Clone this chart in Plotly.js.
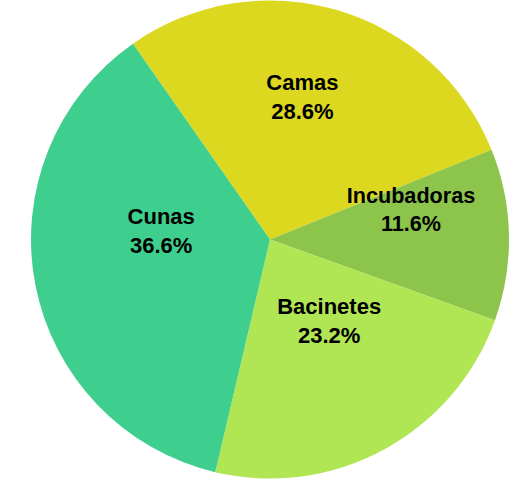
<!DOCTYPE html>
<html>
<head>
<meta charset="utf-8">
<script src="https://cdn.plot.ly/plotly-3.0.1.min.js"></script>
<style>html,body{margin:0;padding:0;background:#fff;overflow:hidden;}#chart{width:514px;height:479px;}</style>
</head>
<body>
<div id="chart"></div>
<script>
const categories = ["Camas", "Incubadoras", "Bacinetes", "Cunas"];
const shares = [28.6, 11.6, 23.2, 36.6];
const sliceColors = ["#dcd820", "#8dc44b", "#b0e553", "#3ecf8e"];
const noColors = ["rgba(0,0,0,0)", "rgba(0,0,0,0)", "rgba(0,0,0,0)", "rgba(0,0,0,0)"];

const common = {
  type: "pie",
  labels: categories,
  values: shares,
  sort: false,
  direction: "clockwise",
  rotation: -35,
  hoverinfo: "none"
};

// coloured slices (outline of the pie)
const slices = Object.assign({}, common, {
  marker: {colors: sliceColors, line: {width: 0}},
  textinfo: "none",
  domain: {x: [0.0603, 0.9903], y: [0, 1]}
});

// labels, anchored on the point where the slices meet in the reference
const labels = Object.assign({}, common, {
  marker: {colors: noColors, line: {width: 0}},
  texttemplate: "%{label}<br>%{percent:.1%}",
  textposition: "inside",
  insidetextorientation: "horizontal",
  textfont: {family: "Liberation Sans, Arial, sans-serif", size: 22, color: "#000000", weight: "bold"},
  domain: {x: [0.1148, 0.9319], y: [0.1232, 1]}
});

Plotly.newPlot("chart", [slices, labels], {
  width: 514, height: 479,
  margin: {l: 0, r: 0, t: 0, b: 0},
  showlegend: false,
  paper_bgcolor: "#ffffff"
}, {staticPlot: true});
</script>
</body>
</html>
